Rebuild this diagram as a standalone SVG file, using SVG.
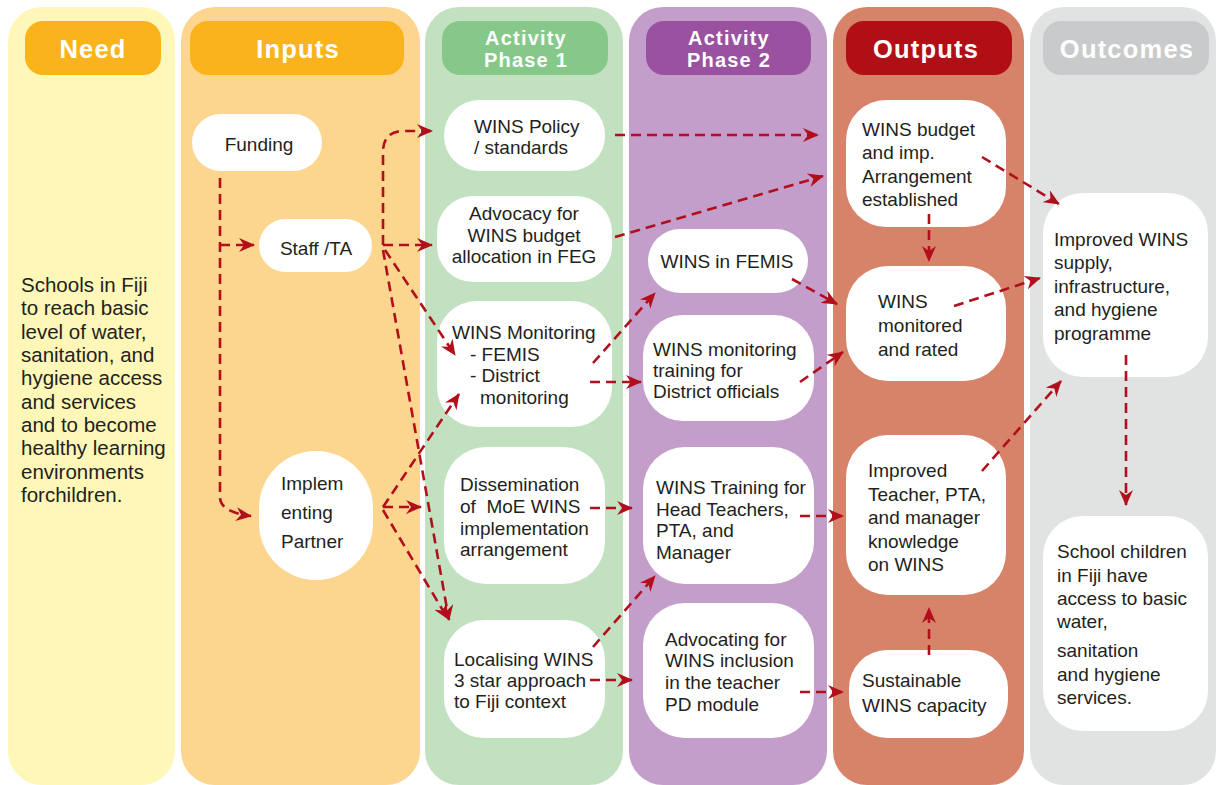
<svg xmlns="http://www.w3.org/2000/svg" width="1218" height="785" viewBox="0 0 1218 785">
<defs>
<style>
.hd{font-family:"Liberation Sans",Arial,sans-serif;font-weight:bold;fill:#fff;text-anchor:middle;letter-spacing:1.2px}
.t{font-family:"Liberation Sans",Arial,sans-serif;font-size:19px;fill:#231F20}
.tc{text-anchor:middle}
.n{fill:#fff}
.c path{fill:none;stroke:#B20F1C;stroke-width:2.6;stroke-dasharray:10 6;marker-end:url(#ah)}
</style>
<marker id="ah" markerUnits="userSpaceOnUse" viewBox="0 0 16 14" refX="15" refY="7" markerWidth="16" markerHeight="14" orient="auto">
<path d="M0,0 L16,7 L0,14 L5,7 Z" fill="#B20F1C"/>
</marker>
</defs>
<rect width="1218" height="785" fill="#fff"/>

<g id="columns">
<rect x="8" y="7" width="167" height="778" rx="34" fill="#FEF7B7"/>
<rect x="181" y="7" width="239" height="778" rx="34" fill="#FCD58F"/>
<rect x="425" y="7" width="198" height="778" rx="34" fill="#C2E1C1"/>
<rect x="629" y="7" width="198" height="778" rx="34" fill="#C49ECA"/>
<rect x="833" y="7" width="191" height="778" rx="34" fill="#D6836A"/>
<rect x="1030" y="7" width="186" height="778" rx="34" fill="#E1E3E2"/>
</g>

<g id="headers">
<g id="h-need"><rect x="25" y="21" width="136" height="54" rx="18" fill="#FBB31B"/><text class="hd" x="93" y="57.5" font-size="25.5">Need</text></g>
<g id="h-inputs"><rect x="190" y="21" width="214" height="54" rx="18" fill="#FBB31B"/><text class="hd" x="298" y="57.5" font-size="25.5">Inputs</text></g>
<g id="h-phase1"><rect x="442" y="21" width="166" height="54" rx="18" fill="#85C889"/><text class="hd" x="526" y="45" font-size="20">Activity</text><text class="hd" x="526" y="67" font-size="20">Phase 1</text></g>
<g id="h-phase2"><rect x="646" y="21" width="165" height="54" rx="18" fill="#9A51A0"/><text class="hd" x="729" y="45" font-size="20">Activity</text><text class="hd" x="729" y="67" font-size="20">Phase 2</text></g>
<g id="h-outputs"><rect x="846" y="21" width="166" height="54" rx="18" fill="#B10E16"/><text class="hd" x="926" y="57.5" font-size="25.5">Outputs</text></g>
<g id="h-outcomes"><rect x="1043" y="21" width="166" height="54" rx="18" fill="#C9CACB"/><text class="hd" x="1127" y="57.5" font-size="25.5">Outcomes</text></g>
</g>

<g id="need-text">
<text class="t" font-size="20.5" style="font-size:20.5px">
<tspan x="21" y="292">Schools in Fiji</tspan>
<tspan x="21" y="315.3">to reach basic</tspan>
<tspan x="21" y="338.6">level of water,</tspan>
<tspan x="21" y="362">sanitation, and</tspan>
<tspan x="21" y="385.3">hygiene access</tspan>
<tspan x="21" y="408.6">and services</tspan>
<tspan x="21" y="432">and to become</tspan>
<tspan x="21" y="455.3">healthy learning</tspan>
<tspan x="21" y="478.6">environments</tspan>
<tspan x="21" y="502">forchildren.</tspan>
</text>
</g>

<g id="n-funding"><rect class="n" x="192" y="114" width="130" height="57" rx="28.5"/><text class="t tc" x="259" y="151">Funding</text></g>
<g id="n-staff"><rect class="n" x="259" y="219" width="113" height="53" rx="26.5"/><text class="t tc" x="316" y="255">Staff /TA</text></g>
<g id="n-partner"><rect class="n" x="259" y="451" width="114" height="129" rx="57"/><text class="t"><tspan x="281" y="490">Implem</tspan><tspan x="281" y="519">enting</tspan><tspan x="281" y="548">Partner</tspan></text></g>

<g id="n-policy"><rect class="n" x="444" y="100" width="161" height="71" rx="35"/><text class="t"><tspan x="474" y="133">WINS Policy</tspan><tspan x="474" y="154">/ standards</tspan></text></g>
<g id="n-advocacy"><rect class="n" x="437" y="196" width="175" height="86" rx="36"/><text class="t tc"><tspan x="524" y="220">Advocacy for</tspan><tspan x="524" y="242">WINS budget</tspan><tspan x="524" y="263">allocation in FEG</tspan></text></g>
<g id="n-monitoring"><rect class="n" x="437" y="301" width="175" height="126" rx="40"/><text class="t"><tspan x="452" y="339">WINS Monitoring</tspan><tspan x="470" y="361">- FEMIS</tspan><tspan x="470" y="382">- District</tspan><tspan x="480" y="404">monitoring</tspan></text></g>
<g id="n-dissemination"><rect class="n" x="444" y="447" width="161" height="137" rx="42"/><text class="t" xml:space="preserve"><tspan x="460" y="491">Dissemination</tspan><tspan x="460" y="513">of  MoE WINS</tspan><tspan x="460" y="535">implementation</tspan><tspan x="460" y="556">arrangement</tspan></text></g>
<g id="n-localising"><rect class="n" x="444" y="620" width="161" height="118" rx="40"/><text class="t"><tspan x="454" y="666">Localising WINS</tspan><tspan x="454" y="687">3 star approach</tspan><tspan x="454" y="708">to Fiji context</tspan></text></g>

<g id="n-femis"><rect class="n" x="648" y="229" width="160" height="64" rx="32"/><text class="t tc" x="727" y="268">WINS in FEMIS</text></g>
<g id="n-mtraining"><rect class="n" x="643" y="315" width="171" height="106" rx="40"/><text class="t"><tspan x="653" y="356">WINS monitoring</tspan><tspan x="653" y="377">training for</tspan><tspan x="653" y="398">District officials</tspan></text></g>
<g id="n-htraining"><rect class="n" x="643" y="447" width="171" height="137" rx="42"/><text class="t"><tspan x="656" y="494">WINS Training for</tspan><tspan x="656" y="516">Head Teachers,</tspan><tspan x="656" y="537">PTA, and</tspan><tspan x="656" y="559">Manager</tspan></text></g>
<g id="n-advocating"><rect class="n" x="643" y="603" width="171" height="135" rx="42"/><text class="t"><tspan x="665" y="646">Advocating for</tspan><tspan x="665" y="667">WINS inclusion</tspan><tspan x="665" y="689">in the teacher</tspan><tspan x="665" y="711">PD module</tspan></text></g>

<g id="n-budget"><rect class="n" x="846" y="100" width="160" height="127" rx="40"/><text class="t"><tspan x="862" y="136">WINS budget</tspan><tspan x="862" y="159">and imp.</tspan><tspan x="862" y="182.5">Arrangement</tspan><tspan x="862" y="205.5">established</tspan></text></g>
<g id="n-monitored"><rect class="n" x="846" y="266" width="160" height="115" rx="42"/><text class="t"><tspan x="878" y="308">WINS</tspan><tspan x="878" y="332">monitored</tspan><tspan x="878" y="355.5">and rated</tspan></text></g>
<g id="n-teacher"><rect class="n" x="846" y="435" width="160" height="160" rx="42"/><text class="t"><tspan x="868" y="477">Improved</tspan><tspan x="868" y="500.5">Teacher, PTA,</tspan><tspan x="868" y="524">and manager</tspan><tspan x="868" y="547.5">knowledge</tspan><tspan x="868" y="571">on WINS</tspan></text></g>
<g id="n-sustain"><rect class="n" x="849" y="650" width="159" height="88" rx="38"/><text class="t"><tspan x="862" y="687">Sustainable</tspan><tspan x="862" y="711.5">WINS capacity</tspan></text></g>

<g id="n-supply"><rect class="n" x="1043" y="193" width="165" height="184" rx="40"/><text class="t"><tspan x="1054" y="246">Improved WINS</tspan><tspan x="1054" y="269">supply,</tspan><tspan x="1054" y="292.5">infrastructure,</tspan><tspan x="1054" y="316">and hygiene</tspan><tspan x="1054" y="339.5">programme</tspan></text></g>
<g id="n-children"><rect class="n" x="1043" y="516" width="165" height="215" rx="40"/><text class="t"><tspan x="1057" y="557.5">School children</tspan><tspan x="1057" y="581.5">in Fiji have</tspan><tspan x="1057" y="604.5">access to basic</tspan><tspan x="1057" y="628">water,</tspan><tspan x="1057" y="656.5">sanitation</tspan><tspan x="1057" y="681">and hygiene</tspan><tspan x="1057" y="703.5">services.</tspan></text></g>

<g id="connectors" class="c">
<path d="M220,178 V497 Q220,512 251,516"/>
<path d="M220,245 H254"/>
<path d="M383,245 V152 Q383,131 404,131 H432"/>
<path d="M383,245 H432"/>
<path d="M385,250 L455,355"/>
<path d="M383,250 L449,620"/>
<path d="M383,507 L459,394"/>
<path d="M383,507 H421"/>
<path d="M383,510 L448,619"/>
<path d="M615,135 H818"/>
<path d="M615,237 L823,176"/>
<path d="M593,363 L655,293"/>
<path d="M590,382 H641"/>
<path d="M792,279 L837,304"/>
<path d="M800,382 L843,352"/>
<path d="M590,508 H632"/>
<path d="M593,647 L655,576"/>
<path d="M590,680 H632"/>
<path d="M800,516 H843"/>
<path d="M800,692 H843"/>
<path d="M929,214 V261"/>
<path d="M982,157 L1059,204"/>
<path d="M954,306 L1040,278"/>
<path d="M982,471 L1061,381"/>
<path d="M929,655 V608"/>
<path d="M1126,355 V505"/>
</g>
</svg>
